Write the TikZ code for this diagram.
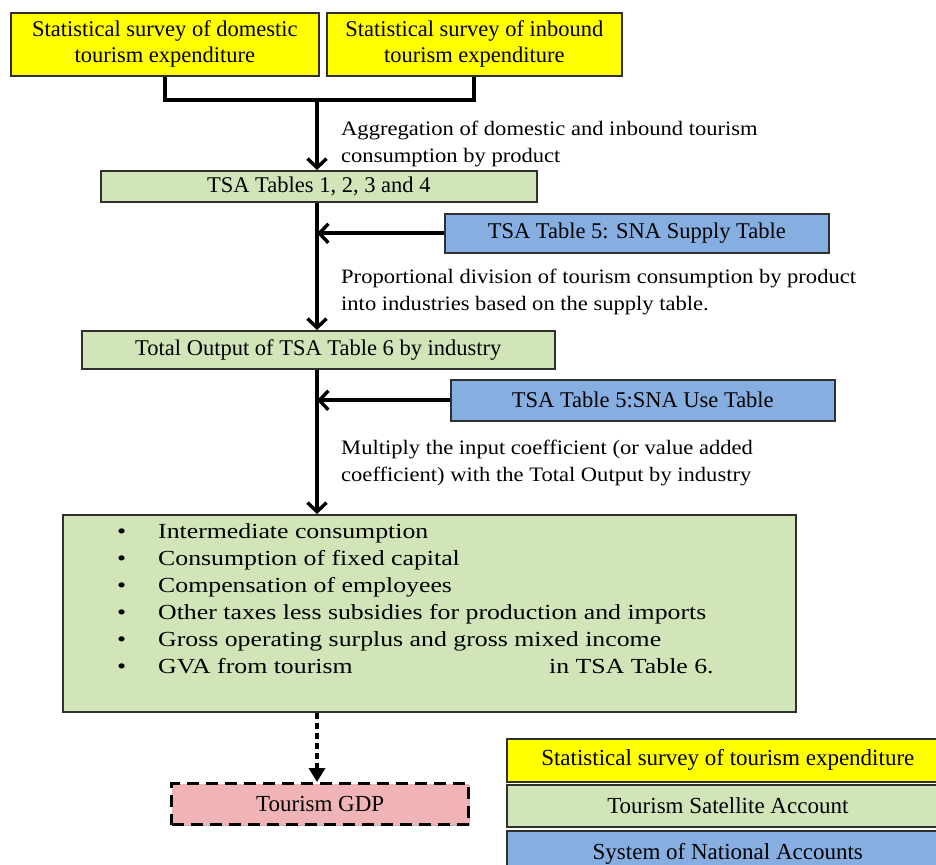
\documentclass[tikz,border=0pt]{standalone}
\usepackage{fontspec}
\setmainfont{Liberation Serif}
\newfontfamily\widefont[FakeStretch=1.1]{Liberation Serif}
\newfontfamily\widerfont[FakeStretch=1.2]{Liberation Serif}
\usetikzlibrary{arrows.meta,shadows}
\definecolor{yel}{HTML}{FFFF00}
\definecolor{grn}{HTML}{D1E5B9}
\definecolor{blu}{HTML}{86AEE0}
\definecolor{pnk}{HTML}{F0B4B6}
\definecolor{edge}{HTML}{303030}
\begin{document}
\begin{tikzpicture}[x=1pt,y=-1pt,
  box/.style={draw=edge,line width=1.6pt,inner sep=0pt,anchor=north west,align=center,
    font=\fontsize{22.5}{26}\selectfont,
    drop shadow={shadow xshift=1.5pt,shadow yshift=-1.5pt,fill=black!45,opacity=0.6}},
  flow/.style={line width=4pt,-{Straight Barb[length=9pt,width=19pt,line width=3.4pt]}},
  plain/.style={line width=4pt},
  lbl/.style={anchor=north west,align=left,inner sep=0pt,font=\widefont\fontsize{20.5}{27}\selectfont}]
\useasboundingbox (0,0) rectangle (936,864);
\clip (0,0) rectangle (936,864);
\fill[white] (0,0) rectangle (936,864);

% top survey boxes
\node[box,fill=yel,minimum width=308pt,minimum height=63pt] (s1) at (10,12)
  {Statistical survey of domestic\\tourism expenditure};
\node[box,fill=yel,minimum width=295pt,minimum height=63pt] (s2) at (326,12)
  {Statistical survey of inbound\\tourism expenditure};
\coordinate (j) at (317,100);

% TSA tables 1-4
\node[box,fill=grn,minimum width=436pt,minimum height=31pt] (t14) at (100,170)
  {TSA Tables 1, 2, 3 and 4};
\node[box,fill=blu,minimum width=384pt,minimum height=39pt] (sup) at (444,213)
  {TSA Table 5: SNA Supply Table};
\node[box,fill=grn,minimum width=473pt,minimum height=38pt] (to6) at (81,330)
  {Total Output of TSA Table 6 by industry};
\node[box,fill=blu,minimum width=384pt,minimum height=41pt] (use) at (450,379)
  {TSA Table 5:SNA Use Table};
\node[box,fill=grn,minimum width=733pt,minimum height=197pt] (big) at (62,514) {};
\node[anchor=north west,inner sep=0pt,align=left,font=\widerfont\fontsize{21.5}{27}\selectfont] (items) at (117,523)
  {\makebox[41pt][l]{•}Intermediate consumption\\
   \makebox[41pt][l]{•}Consumption of fixed capital\\
   \makebox[41pt][l]{•}Compensation of employees\\
   \makebox[41pt][l]{•}Other taxes less subsidies for production and imports\\
   \makebox[41pt][l]{•}Gross operating surplus and gross mixed income\\
   \makebox[41pt][l]{•}\makebox[391pt][l]{GVA from tourism}in TSA Table 6.};
\node[box,fill=pnk,draw=black,line width=3.4pt,dash pattern=on 12pt off 7pt,
  font=\fontsize{23}{26}\selectfont,
  minimum width=297pt,minimum height=41pt,drop shadow={opacity=0}] (gdp) at (170,782) {Tourism GDP};

% labels
\node[lbl] (l1) at (341,121) {Aggregation of domestic and inbound tourism\\consumption by product};
\node[lbl] (l2) at (341,269) {Proportional division of tourism consumption by product\\into industries based on the supply table.};
\node[lbl] (l3) at (341,440) {Multiply the input coefficient (or value added\\coefficient) with the Total Output by industry};

% legend
\node[box,fill=yel,minimum width=442pt,minimum height=43pt,font=\fontsize{23}{26}\selectfont] (ly) at (506,738) {Statistical survey of tourism expenditure};
\node[box,fill=grn,minimum width=442pt,minimum height=42pt,font=\fontsize{23}{26}\selectfont] (lg) at (506,784) {Tourism Satellite Account};
\node[box,fill=blu,minimum width=442pt,minimum height=46pt,font=\fontsize{23}{26}\selectfont] (lb) at (506,830) {System of National Accounts};

% connectors
\draw[plain] (s1.south) |- (j) -| (s2.south);
\draw[flow] (j) -- (j |- t14.north);
\draw[flow] (j |- t14.south) -- (j |- to6.north);
\draw[flow] (sup.west) -- (sup.west -| j);
\draw[flow] (j |- to6.south) -- (j |- big.north);
\draw[flow] (use.west) -- (use.west -| j);
\draw[line width=4pt,dash pattern=on 6pt off 4pt,-{Triangle[length=14pt,width=16pt]}]
  (j |- big.south) -- (j |- gdp.north);
\end{tikzpicture}
\end{document}
